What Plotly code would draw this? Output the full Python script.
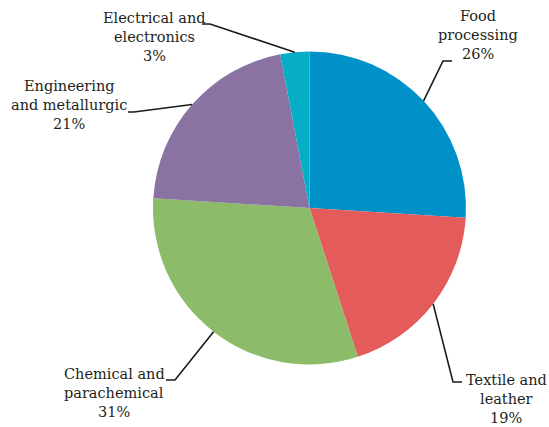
import math
import plotly.graph_objects as go

# Share of industrial units by sector
sectors = ["Food processing", "Textile and leather", "Chemical and parachemical",
           "Engineering and metallurgic", "Electrical and electronics"]
shares = [26, 19, 31, 21, 3]
colors = ["#0091C9", "#E35B5B", "#8CBB6A", "#8A73A3", "#05ADC6"]

# Label text lines per sector (last line is the percentage)
label_lines = [
    ["Food", "processing"],
    ["Textile and", "leather"],
    ["Chemical and", "parachemical"],
    ["Engineering", "and metallurgic"],
    ["Electrical and", "electronics"],
]

W, H = 549, 427
CX, CY, R = 309.5, 208.0, 156.5   # pie centre and radius in pixels

# label block centre x, first-line y, plus leader elbow and leader end (pixels)
label_layout = [
    dict(x=478, y=16, elbow=(443, 61), end=(452, 61)),
    dict(x=506, y=380, elbow=(453, 382), end=(462, 382)),
    dict(x=114, y=374, elbow=(175, 380), end=(166, 380)),
    dict(x=69, y=86, elbow=(134, 112), end=(128, 112)),
    dict(x=154, y=18, elbow=(210, 24), end=(202, 24)),
]
LINE_GAP = 19.0
FONT = dict(family="DejaVu Serif", size=14.5, color="#231F20")


def px(x):
    return x / W


def py(y):
    return 1 - y / H


fig = go.Figure(go.Pie(
    labels=sectors,
    values=shares,
    sort=False,
    direction="clockwise",
    rotation=0,
    marker=dict(colors=colors, line=dict(width=0)),
    textinfo="none",
    hoverinfo="label+percent",
    domain=dict(x=[px(CX - R), px(CX + R)], y=[py(CY + R), py(CY - R)]),
    showlegend=False,
))

annotations = []
shapes = []
total = sum(shares)
cum = 0
for lines, share, lay in zip(label_lines, shares, label_layout):
    mid = (cum + share / 2) / total * 2 * math.pi
    cum += share
    ex = CX + R * math.sin(mid)
    ey = CY - R * math.cos(mid)
    (bx, by), (tx, ty) = lay["elbow"], lay["end"]
    shapes.append(dict(
        type="path", xref="paper", yref="paper",
        path=f"M {px(ex)} {py(ey)} L {px(bx)} {py(by)} L {px(tx)} {py(ty)}",
        line=dict(color="#1a1a1a", width=1.6),
    ))
    text_rows = lines + [f"{share}%"]
    for i, row in enumerate(text_rows):
        annotations.append(dict(
            text=row, x=px(lay["x"]), y=py(lay["y"] + i * LINE_GAP),
            xref="paper", yref="paper", xanchor="center", yanchor="middle",
            showarrow=False, font=FONT, borderpad=0,
        ))

fig.update_layout(
    width=W, height=H,
    margin=dict(l=0, r=0, t=0, b=0),
    paper_bgcolor="white",
    plot_bgcolor="white",
    annotations=annotations,
    shapes=shapes,
)

fig.write_html("out.html")
